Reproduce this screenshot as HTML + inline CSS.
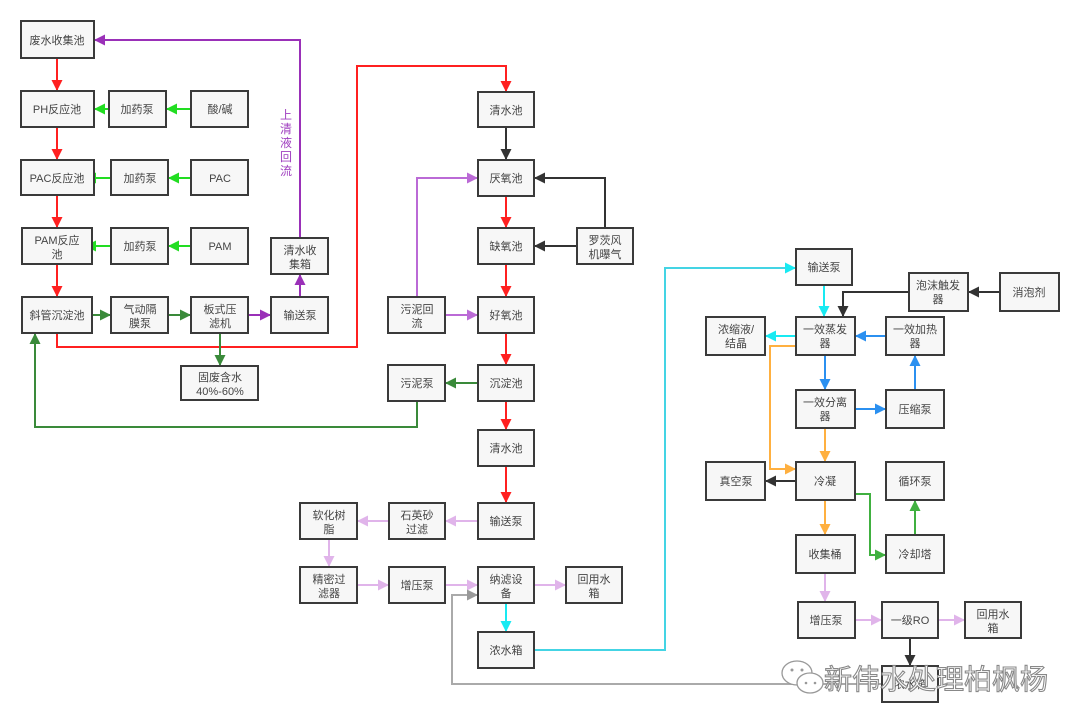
<!DOCTYPE html>
<html><head><meta charset="utf-8"><style>
html,body{margin:0;padding:0;background:#fff;}
svg{display:block;}
text{font-family:"Liberation Sans","Noto Sans CJK SC",sans-serif;font-size:11px;fill:#444;text-anchor:middle;}
rect.b{fill:#f7f7f7;stroke:#3a3a3a;stroke-width:2;}
path{fill:none;stroke-width:2;}
</style></head><body>
<svg width="1080" height="723" viewBox="0 0 1080 723" xmlns="http://www.w3.org/2000/svg">
<defs>
<marker id="mr" markerWidth="11" markerHeight="11" refX="10" refY="5.5" orient="auto" markerUnits="userSpaceOnUse" viewBox="0 0 11 11"><path d="M0,0L11,5.5L0,11z" style="fill:#ff2020;stroke:none"/></marker>
<marker id="mg" markerWidth="11" markerHeight="11" refX="10" refY="5.5" orient="auto" markerUnits="userSpaceOnUse" viewBox="0 0 11 11"><path d="M0,0L11,5.5L0,11z" style="fill:#22dd22;stroke:none"/></marker>
<marker id="mdg" markerWidth="11" markerHeight="11" refX="10" refY="5.5" orient="auto" markerUnits="userSpaceOnUse" viewBox="0 0 11 11"><path d="M0,0L11,5.5L0,11z" style="fill:#3a8a3a;stroke:none"/></marker>
<marker id="mp" markerWidth="11" markerHeight="11" refX="10" refY="5.5" orient="auto" markerUnits="userSpaceOnUse" viewBox="0 0 11 11"><path d="M0,0L11,5.5L0,11z" style="fill:#9a30b8;stroke:none"/></marker>
<marker id="mlp" markerWidth="11" markerHeight="11" refX="10" refY="5.5" orient="auto" markerUnits="userSpaceOnUse" viewBox="0 0 11 11"><path d="M0,0L11,5.5L0,11z" style="fill:#bb6ad6;stroke:none"/></marker>
<marker id="mpk" markerWidth="11" markerHeight="11" refX="10" refY="5.5" orient="auto" markerUnits="userSpaceOnUse" viewBox="0 0 11 11"><path d="M0,0L11,5.5L0,11z" style="fill:#e0b4ea;stroke:none"/></marker>
<marker id="mk" markerWidth="11" markerHeight="11" refX="10" refY="5.5" orient="auto" markerUnits="userSpaceOnUse" viewBox="0 0 11 11"><path d="M0,0L11,5.5L0,11z" style="fill:#333;stroke:none"/></marker>
<marker id="mc" markerWidth="11" markerHeight="11" refX="10" refY="5.5" orient="auto" markerUnits="userSpaceOnUse" viewBox="0 0 11 11"><path d="M0,0L11,5.5L0,11z" style="fill:#18eaf2;stroke:none"/></marker>
<marker id="mb" markerWidth="11" markerHeight="11" refX="10" refY="5.5" orient="auto" markerUnits="userSpaceOnUse" viewBox="0 0 11 11"><path d="M0,0L11,5.5L0,11z" style="fill:#2b90f0;stroke:none"/></marker>
<marker id="mo" markerWidth="11" markerHeight="11" refX="10" refY="5.5" orient="auto" markerUnits="userSpaceOnUse" viewBox="0 0 11 11"><path d="M0,0L11,5.5L0,11z" style="fill:#ffb040;stroke:none"/></marker>
<marker id="mg2" markerWidth="11" markerHeight="11" refX="10" refY="5.5" orient="auto" markerUnits="userSpaceOnUse" viewBox="0 0 11 11"><path d="M0,0L11,5.5L0,11z" style="fill:#40b040;stroke:none"/></marker>
<marker id="mgr" markerWidth="11" markerHeight="11" refX="10" refY="5.5" orient="auto" markerUnits="userSpaceOnUse" viewBox="0 0 11 11"><path d="M0,0L11,5.5L0,11z" style="fill:#999;stroke:none"/></marker>
</defs>

<g>
<path d="M57,58V90" stroke="#ff2020" marker-end="url(#mr)"/>
<path d="M57,127V159" stroke="#ff2020" marker-end="url(#mr)"/>
<path d="M57,195V227" stroke="#ff2020" marker-end="url(#mr)"/>
<path d="M57,264V296" stroke="#ff2020" marker-end="url(#mr)"/>
<path d="M57,333V347H357V66H506V91" stroke="#ff2020" marker-end="url(#mr)"/>
<path d="M191,109H167" stroke="#22dd22" marker-end="url(#mg)"/>
<path d="M109,109H95" stroke="#22dd22" marker-end="url(#mg)"/>
<path d="M191,178H169" stroke="#22dd22" marker-end="url(#mg)"/>
<path d="M111,178H86" stroke="#22dd22" marker-end="url(#mg)"/>
<path d="M191,246H169" stroke="#22dd22" marker-end="url(#mg)"/>
<path d="M111,246H86" stroke="#22dd22" marker-end="url(#mg)"/>
<path d="M92,315H110" stroke="#3a8a3a" marker-end="url(#mdg)"/>
<path d="M168,315H190" stroke="#3a8a3a" marker-end="url(#mdg)"/>
<path d="M220,333V365" stroke="#3a8a3a" marker-end="url(#mdg)"/>
<path d="M248,315H270" stroke="#9a30b8" marker-end="url(#mp)"/>
<path d="M300,297V275" stroke="#9a30b8" marker-end="url(#mp)"/>
<path d="M300,238V40H95" stroke="#9a30b8" marker-end="url(#mp)"/>
<path d="M506,127V159" stroke="#333" marker-end="url(#mk)"/>
<path d="M506,196V227" stroke="#ff2020" marker-end="url(#mr)"/>
<path d="M506,264V296" stroke="#ff2020" marker-end="url(#mr)"/>
<path d="M506,333V364" stroke="#ff2020" marker-end="url(#mr)"/>
<path d="M506,401V429" stroke="#ff2020" marker-end="url(#mr)"/>
<path d="M506,466V502" stroke="#ff2020" marker-end="url(#mr)"/>
<path d="M605,228V178H535" stroke="#333" marker-end="url(#mk)"/>
<path d="M577,246H535" stroke="#333" marker-end="url(#mk)"/>
<path d="M417,297V178H477" stroke="#bb6ad6" marker-end="url(#mlp)"/>
<path d="M445,315H477" stroke="#bb6ad6" marker-end="url(#mlp)"/>
<path d="M478,383H446" stroke="#3a8a3a" marker-end="url(#mdg)"/>
<path d="M417,401V427H35V334" stroke="#3a8a3a" marker-end="url(#mdg)"/>
<path d="M478,521H446" stroke="#e0b4ea" marker-end="url(#mpk)"/>
<path d="M389,521H358" stroke="#e0b4ea" marker-end="url(#mpk)"/>
<path d="M329,539V566" stroke="#e0b4ea" marker-end="url(#mpk)"/>
<path d="M357,585H388" stroke="#e0b4ea" marker-end="url(#mpk)"/>
<path d="M445,585H477" stroke="#e0b4ea" marker-end="url(#mpk)"/>
<path d="M534,585H565" stroke="#e0b4ea" marker-end="url(#mpk)"/>
<path d="M506,603V631" stroke="#18eaf2" marker-end="url(#mc)"/>
<path d="M534,650H665V268H795" stroke="#44d4e4" marker-end="url(#mc)"/>
<path d="M882,684H452V595H477" stroke="#aaa" marker-end="url(#mgr)"/>
<path d="M824,285V316" stroke="#18eaf2" marker-end="url(#mc)"/>
<path d="M1000,292H969" stroke="#333" marker-end="url(#mk)"/>
<path d="M909,292H843V316" stroke="#333" marker-end="url(#mk)"/>
<path d="M796,336H766" stroke="#18eaf2" marker-end="url(#mc)"/>
<path d="M886,336H856" stroke="#2b90f0" marker-end="url(#mb)"/>
<path d="M825,355V389" stroke="#2b90f0" marker-end="url(#mb)"/>
<path d="M855,409H885" stroke="#2b90f0" marker-end="url(#mb)"/>
<path d="M915,390V356" stroke="#2b90f0" marker-end="url(#mb)"/>
<path d="M796,346H770V469H795" stroke="#ffb040" marker-end="url(#mo)"/>
<path d="M825,428V461" stroke="#ffb040" marker-end="url(#mo)"/>
<path d="M825,500V534" stroke="#ffb040" marker-end="url(#mo)"/>
<path d="M796,481H766" stroke="#333" marker-end="url(#mk)"/>
<path d="M855,494H870V555H885" stroke="#40b040" marker-end="url(#mg2)"/>
<path d="M915,535V501" stroke="#40b040" marker-end="url(#mg2)"/>
<path d="M825,573V601" stroke="#e0b4ea" marker-end="url(#mpk)"/>
<path d="M855,620H881" stroke="#e0b4ea" marker-end="url(#mpk)"/>
<path d="M938,620H964" stroke="#e0b4ea" marker-end="url(#mpk)"/>
<path d="M910,638V665" stroke="#333" marker-end="url(#mk)"/>
</g>

<g>
<rect class="b" x="21" y="21" width="73" height="37"/><text x="57" y="44">废水收集池</text>
<rect class="b" x="21" y="91" width="73" height="36"/><text x="57" y="113">PH反应池</text>
<rect class="b" x="109" y="91" width="57" height="36"/><text x="137" y="113">加药泵</text>
<rect class="b" x="191" y="91" width="57" height="36"/><text x="220" y="113">酸/碱</text>
<rect class="b" x="21" y="160" width="73" height="35"/><text x="57" y="182">PAC反应池</text>
<rect class="b" x="111" y="160" width="57" height="35"/><text x="140" y="182">加药泵</text>
<rect class="b" x="191" y="160" width="57" height="35"/><text x="220" y="182">PAC</text>
<rect class="b" x="22" y="228" width="70" height="36"/><text x="57" y="244">PAM反应</text><text x="57" y="258">池</text>
<rect class="b" x="111" y="228" width="57" height="36"/><text x="140" y="250">加药泵</text>
<rect class="b" x="191" y="228" width="57" height="36"/><text x="220" y="250">PAM</text>
<rect class="b" x="22" y="297" width="70" height="36"/><text x="57" y="319">斜管沉淀池</text>
<rect class="b" x="111" y="297" width="57" height="36"/><text x="140" y="313">气动隔</text><text x="140" y="327">膜泵</text>
<rect class="b" x="191" y="297" width="57" height="36"/><text x="220" y="313">板式压</text><text x="220" y="327">滤机</text>
<rect class="b" x="271" y="297" width="57" height="36"/><text x="300" y="319">输送泵</text>
<rect class="b" x="271" y="238" width="57" height="36"/><text x="300" y="254">清水收</text><text x="300" y="268">集箱</text>
<rect class="b" x="181" y="366" width="77" height="34"/><text x="220" y="381">固废含水</text><text x="220" y="395">40%-60%</text>

<rect class="b" x="478" y="92" width="56" height="35"/><text x="506" y="114">清水池</text>
<rect class="b" x="478" y="160" width="56" height="36"/><text x="506" y="182">厌氧池</text>
<rect class="b" x="478" y="228" width="56" height="36"/><text x="506" y="250">缺氧池</text>
<rect class="b" x="577" y="228" width="56" height="36"/><text x="605" y="244">罗茨风</text><text x="605" y="258">机曝气</text>
<rect class="b" x="388" y="297" width="57" height="36"/><text x="417" y="313">污泥回</text><text x="417" y="327">流</text>
<rect class="b" x="478" y="297" width="56" height="36"/><text x="506" y="319">好氧池</text>
<rect class="b" x="388" y="365" width="57" height="36"/><text x="417" y="387">污泥泵</text>
<rect class="b" x="478" y="365" width="56" height="36"/><text x="506" y="387">沉淀池</text>
<rect class="b" x="478" y="430" width="56" height="36"/><text x="506" y="452">清水池</text>
<rect class="b" x="478" y="503" width="56" height="36"/><text x="506" y="525">输送泵</text>
<rect class="b" x="389" y="503" width="56" height="36"/><text x="417" y="519">石英砂</text><text x="417" y="533">过滤</text>
<rect class="b" x="300" y="503" width="57" height="36"/><text x="329" y="519">软化树</text><text x="329" y="533">脂</text>
<rect class="b" x="300" y="567" width="57" height="36"/><text x="329" y="583">精密过</text><text x="329" y="597">滤器</text>
<rect class="b" x="389" y="567" width="56" height="36"/><text x="417" y="589">增压泵</text>
<rect class="b" x="478" y="567" width="56" height="36"/><text x="506" y="583">纳滤设</text><text x="506" y="597">备</text>
<rect class="b" x="566" y="567" width="56" height="36"/><text x="594" y="583">回用水</text><text x="594" y="597">箱</text>
<rect class="b" x="478" y="632" width="56" height="36"/><text x="506" y="654">浓水箱</text>

<rect class="b" x="796" y="249" width="56" height="36"/><text x="824" y="271">输送泵</text>
<rect class="b" x="909" y="273" width="59" height="38"/><text x="938" y="289">泡沫触发</text><text x="938" y="303">器</text>
<rect class="b" x="1000" y="273" width="59" height="38"/><text x="1029" y="296">消泡剂</text>
<rect class="b" x="706" y="317" width="59" height="38"/><text x="736" y="333">浓缩液/</text><text x="736" y="347">结晶</text>
<rect class="b" x="796" y="317" width="59" height="38"/><text x="825" y="333">一效蒸发</text><text x="825" y="347">器</text>
<rect class="b" x="886" y="317" width="58" height="38"/><text x="915" y="333">一效加热</text><text x="915" y="347">器</text>
<rect class="b" x="796" y="390" width="59" height="38"/><text x="825" y="406">一效分离</text><text x="825" y="420">器</text>
<rect class="b" x="886" y="390" width="58" height="38"/><text x="915" y="413">压缩泵</text>
<rect class="b" x="706" y="462" width="59" height="38"/><text x="736" y="485">真空泵</text>
<rect class="b" x="796" y="462" width="59" height="38"/><text x="825" y="485">冷凝</text>
<rect class="b" x="886" y="462" width="58" height="38"/><text x="915" y="485">循环泵</text>
<rect class="b" x="796" y="535" width="59" height="38"/><text x="825" y="558">收集桶</text>
<rect class="b" x="886" y="535" width="58" height="38"/><text x="915" y="558">冷却塔</text>
<rect class="b" x="798" y="602" width="57" height="36"/><text x="826" y="624">增压泵</text>
<rect class="b" x="882" y="602" width="56" height="36"/><text x="910" y="624">一级RO</text>
<rect class="b" x="965" y="602" width="56" height="36"/><text x="993" y="618">回用水</text><text x="993" y="632">箱</text>
<rect class="b" x="882" y="666" width="56" height="36"/><text x="910" y="688">浓水箱</text>
</g>

<g>
<text x="286" y="119" style="fill:#a040c0;font-size:12px">上</text>
<text x="286" y="133" style="fill:#a040c0;font-size:12px">清</text>
<text x="286" y="147" style="fill:#a040c0;font-size:12px">液</text>
<text x="286" y="161" style="fill:#a040c0;font-size:12px">回</text>
<text x="286" y="175" style="fill:#a040c0;font-size:12px">流</text>
</g>

<g>
<ellipse cx="797" cy="673" rx="15" ry="12" style="fill:#fff;stroke:#999;stroke-width:1.3"/>
<ellipse cx="810" cy="683" rx="13" ry="10" style="fill:#fff;stroke:#999;stroke-width:1.3"/>
<circle cx="792" cy="670" r="1.5" style="fill:#999"/><circle cx="802" cy="670" r="1.5" style="fill:#999"/>
<circle cx="806" cy="683" r="1.3" style="fill:#999"/><circle cx="815" cy="683" r="1.3" style="fill:#999"/>
<text x="936" y="689" style="font-size:28px;fill:#fff;stroke:#888;stroke-width:1.1;text-anchor:middle">新伟水处理柏枫杨</text>
</g>
</svg>
</body></html>
